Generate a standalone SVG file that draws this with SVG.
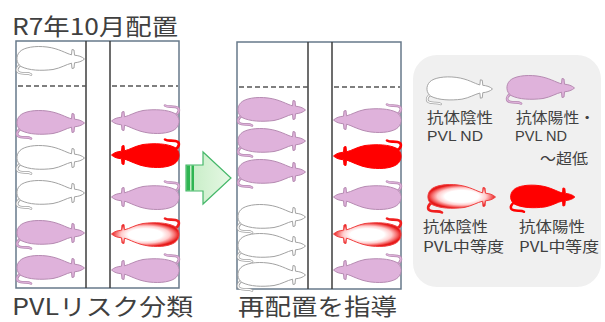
<svg xmlns="http://www.w3.org/2000/svg" xmlns:xlink="http://www.w3.org/1999/xlink" width="605" height="322" viewBox="0 0 605 322">
  <style>
    text{font-family:"Noto Sans CJK JP","Noto Sans",sans-serif;fill:#404040}
    .h{font-size:23px}
    .lg{font-size:14.5px}
    .lat{font-family:"Liberation Sans","Noto Sans CJK JP",sans-serif;font-size:15px}
    .box{fill:#fff;stroke:#67798a;stroke-width:1.5}
    .div{stroke:#3c3c3c;stroke-width:1.5}
    .dash{stroke:#555;stroke-width:1.5;stroke-dasharray:5 3}
    .to{fill:none;stroke-width:2.6;stroke-linecap:round}
    .ti{fill:none;stroke-width:1.1;stroke-linecap:round}
    .b{stroke-width:1;stroke-linejoin:round}
    .pink .b{fill:#dfb2db;stroke:#b68bb2}
    .pink .to{stroke:#b68bb2}
    .pink .ti{stroke:#dfb2db}
    .white .b{fill:#fff;stroke:#a2a2a2}
    .white .to{stroke:#a2a2a2}
    .white .ti{stroke:#fff}
    .red .b{fill:#f00;stroke:#f00}
    .red .to,.red .ti{stroke:#f00}
    .glow .b{fill:url(#glow);stroke:#f04040}
    .glow .to,.glow .ti{stroke:#f02020}
  </style>
  <defs>
    <!-- rat seen from above, facing right, body centred on 0,0 -->
    <path id="body" d="M33.5,0 C31,-2.5 27,-3.5 23.5,-3.8 L23,-9 L21,-9.5 L20.5,-4.2 C15,-5.5 8,-10.5 -4,-12 C-16,-13.5 -27,-11.5 -31,-7.5 C-35.5,-3 -35,4 -30,7.5 C-22,11.5 -10,12 2,10.5 C10,9 15,5.5 20.5,4.2 L21,9.5 L23,9 L23.5,3.8 C27,3.5 31,2.5 33.5,0 Z"/>
    <path id="tail" d="M-29,5 C-35,8 -35.5,13 -30.5,14 C-26,15 -23,13.5 -20,15.5"/>
    <!-- white core fading to a red rim -->
    <radialGradient id="glow" cx="0.5" cy="0.5" r="0.5">
      <stop offset="0" stop-color="#fff"/>
      <stop offset="0.5" stop-color="#fff"/>
      <stop offset="0.72" stop-color="#ffcccc"/>
      <stop offset="0.88" stop-color="#f56a6a"/>
      <stop offset="1" stop-color="#e61a1a"/>
    </radialGradient>
    <linearGradient id="arrowFill" x1="0" y1="0" x2="1" y2="0">
      <stop offset="0" stop-color="#c4ecc4"/>
      <stop offset="1" stop-color="#e6f8e4"/>
    </linearGradient>
  </defs>

  <!-- headings -->
  <text id="title-top" class="h" x="12" y="35" textLength="166" lengthAdjust="spacingAndGlyphs">R7年10月配置</text>
  <text id="label-left" class="h" x="12" y="315" textLength="181" lengthAdjust="spacingAndGlyphs">PVLリスク分類</text>
  <text id="label-right" class="h" x="238" y="315" textLength="159" lengthAdjust="spacingAndGlyphs">再配置を指導</text>

  <!-- current layout -->
  <g id="layout-current">
    <rect class="box" x="16" y="41" width="163" height="247"/>
    <line class="div" x1="86" y1="41" x2="86" y2="288"/>
    <line class="div" x1="110" y1="41" x2="110" y2="288"/>
    <line class="dash" x1="18" y1="86" x2="86" y2="86"/>
    <line class="dash" x1="112" y1="86" x2="178" y2="86"/>
  </g>
  <g id="c-l1" class="white" transform="translate(51,59)"><use href="#tail" class="to"/><use href="#tail" class="ti"/><use href="#body" class="b"/></g>
  <g id="c-l2" class="pink" transform="translate(51,123)"><use href="#tail" class="to"/><use href="#tail" class="ti"/><use href="#body" class="b"/></g>
  <g id="c-l3" class="white" transform="translate(51,158)"><use href="#tail" class="to"/><use href="#tail" class="ti"/><use href="#body" class="b"/></g>
  <g id="c-l4" class="white" transform="translate(51,193)"><use href="#tail" class="to"/><use href="#tail" class="ti"/><use href="#body" class="b"/></g>
  <g id="c-l5" class="pink" transform="translate(51,233)"><use href="#tail" class="to"/><use href="#tail" class="ti"/><use href="#body" class="b"/></g>
  <g id="c-l6" class="pink" transform="translate(51,268)"><use href="#tail" class="to"/><use href="#tail" class="ti"/><use href="#body" class="b"/></g>
  <g id="c-r1" class="pink" transform="translate(145,121) rotate(180)"><use href="#tail" class="to"/><use href="#tail" class="ti"/><use href="#body" class="b"/></g>
  <g id="c-r2" class="red" transform="translate(145,155) rotate(180)"><use href="#tail" class="to"/><use href="#tail" class="ti"/><use href="#body" class="b"/></g>
  <g id="c-r3" class="pink" transform="translate(145,197) rotate(180)"><use href="#tail" class="to"/><use href="#tail" class="ti"/><use href="#body" class="b"/></g>
  <g id="c-r4" class="glow" transform="translate(145,234) rotate(180)"><use href="#tail" class="to"/><use href="#tail" class="ti"/><use href="#body" class="b"/></g>
  <g id="c-r5" class="pink" transform="translate(145,270) rotate(180)"><use href="#tail" class="to"/><use href="#tail" class="ti"/><use href="#body" class="b"/></g>

  <!-- connectors -->
  <g id="connectors">
    <path d="M186,165 L203,165 L203,152 L231,178 L203,204 L203,191 L186,191 Z" fill="url(#arrowFill)" stroke="#46b86a" stroke-width="1.2" stroke-linejoin="miter"/>
    <rect x="186.5" y="165.5" width="3.5" height="25" fill="#2fb552"/>
    <rect x="191.5" y="165.5" width="2.5" height="25" fill="#2fb552"/>
  </g>

  <!-- proposed layout -->
  <g id="layout-proposed">
    <rect class="box" x="237" y="42" width="164" height="247"/>
    <line class="div" x1="308" y1="42" x2="308" y2="289"/>
    <line class="div" x1="332" y1="42" x2="332" y2="289"/>
    <line class="dash" x1="239" y1="87" x2="308" y2="87"/>
    <line class="dash" x1="334" y1="87" x2="400" y2="87"/>
  </g>
  <g id="p-l1" class="pink" transform="translate(272,110)"><use href="#tail" class="to"/><use href="#tail" class="ti"/><use href="#body" class="b"/></g>
  <g id="p-l2" class="pink" transform="translate(272,141)"><use href="#tail" class="to"/><use href="#tail" class="ti"/><use href="#body" class="b"/></g>
  <g id="p-l3" class="pink" transform="translate(272,172)"><use href="#tail" class="to"/><use href="#tail" class="ti"/><use href="#body" class="b"/></g>
  <g id="p-l4" class="white" transform="translate(272,217)"><use href="#tail" class="to"/><use href="#tail" class="ti"/><use href="#body" class="b"/></g>
  <g id="p-l5" class="white" transform="translate(272,246)"><use href="#tail" class="to"/><use href="#tail" class="ti"/><use href="#body" class="b"/></g>
  <g id="p-l6" class="white" transform="translate(272,275)"><use href="#tail" class="to"/><use href="#tail" class="ti"/><use href="#body" class="b"/></g>
  <g id="p-r1" class="pink" transform="translate(367,120) rotate(180)"><use href="#tail" class="to"/><use href="#tail" class="ti"/><use href="#body" class="b"/></g>
  <g id="p-r2" class="red" transform="translate(367,156) rotate(180)"><use href="#tail" class="to"/><use href="#tail" class="ti"/><use href="#body" class="b"/></g>
  <g id="p-r3" class="pink" transform="translate(367,197) rotate(180)"><use href="#tail" class="to"/><use href="#tail" class="ti"/><use href="#body" class="b"/></g>
  <g id="p-r4" class="glow" transform="translate(367,234) rotate(180)"><use href="#tail" class="to"/><use href="#tail" class="ti"/><use href="#body" class="b"/></g>
  <g id="p-r5" class="pink" transform="translate(367,270) rotate(180)"><use href="#tail" class="to"/><use href="#tail" class="ti"/><use href="#body" class="b"/></g>

  <!-- legend -->
  <g id="legend">
    <rect x="413" y="55" width="188" height="232" rx="24" fill="#f0f0f0"/>
  </g>
  <g id="key-neg-nd">
    <g class="white" transform="translate(460,89) scale(0.97)"><use href="#tail" class="to"/><use href="#tail" class="ti"/><use href="#body" class="b"/></g>
    <text class="lg" x="427" y="123" textLength="66" lengthAdjust="spacingAndGlyphs">抗体陰性</text>
    <text class="lat" x="427" y="141" textLength="56" lengthAdjust="spacingAndGlyphs">PVL ND</text>
  </g>
  <g id="key-pos-nd">
    <g class="pink" transform="translate(541,88)"><use href="#tail" class="to"/><use href="#tail" class="ti"/><use href="#body" class="b"/></g>
    <text class="lg" x="516" y="123" textLength="79" lengthAdjust="spacingAndGlyphs">抗体陽性・</text>
    <text class="lat" x="515" y="141" textLength="52" lengthAdjust="spacingAndGlyphs">PVL ND</text>
    <text class="lg" x="540" y="164" textLength="48" lengthAdjust="spacingAndGlyphs">～超低</text>
  </g>
  <g id="key-neg-mid">
    <g class="glow" transform="translate(462,197)"><use href="#tail" class="to"/><use href="#tail" class="ti"/><use href="#body" class="b"/></g>
    <text class="lg" x="423" y="232" textLength="65" lengthAdjust="spacingAndGlyphs">抗体陰性</text>
    <text class="lg" x="423" y="252" textLength="81" lengthAdjust="spacingAndGlyphs">PVL中等度</text>
  </g>
  <g id="key-pos-mid">
    <g class="red" transform="translate(543,197) scale(0.95)"><use href="#tail" class="to"/><use href="#tail" class="ti"/><use href="#body" class="b"/></g>
    <text class="lg" x="519" y="232" textLength="66" lengthAdjust="spacingAndGlyphs">抗体陽性</text>
    <text class="lg" x="519" y="252" textLength="80" lengthAdjust="spacingAndGlyphs">PVL中等度</text>
  </g>
</svg>
